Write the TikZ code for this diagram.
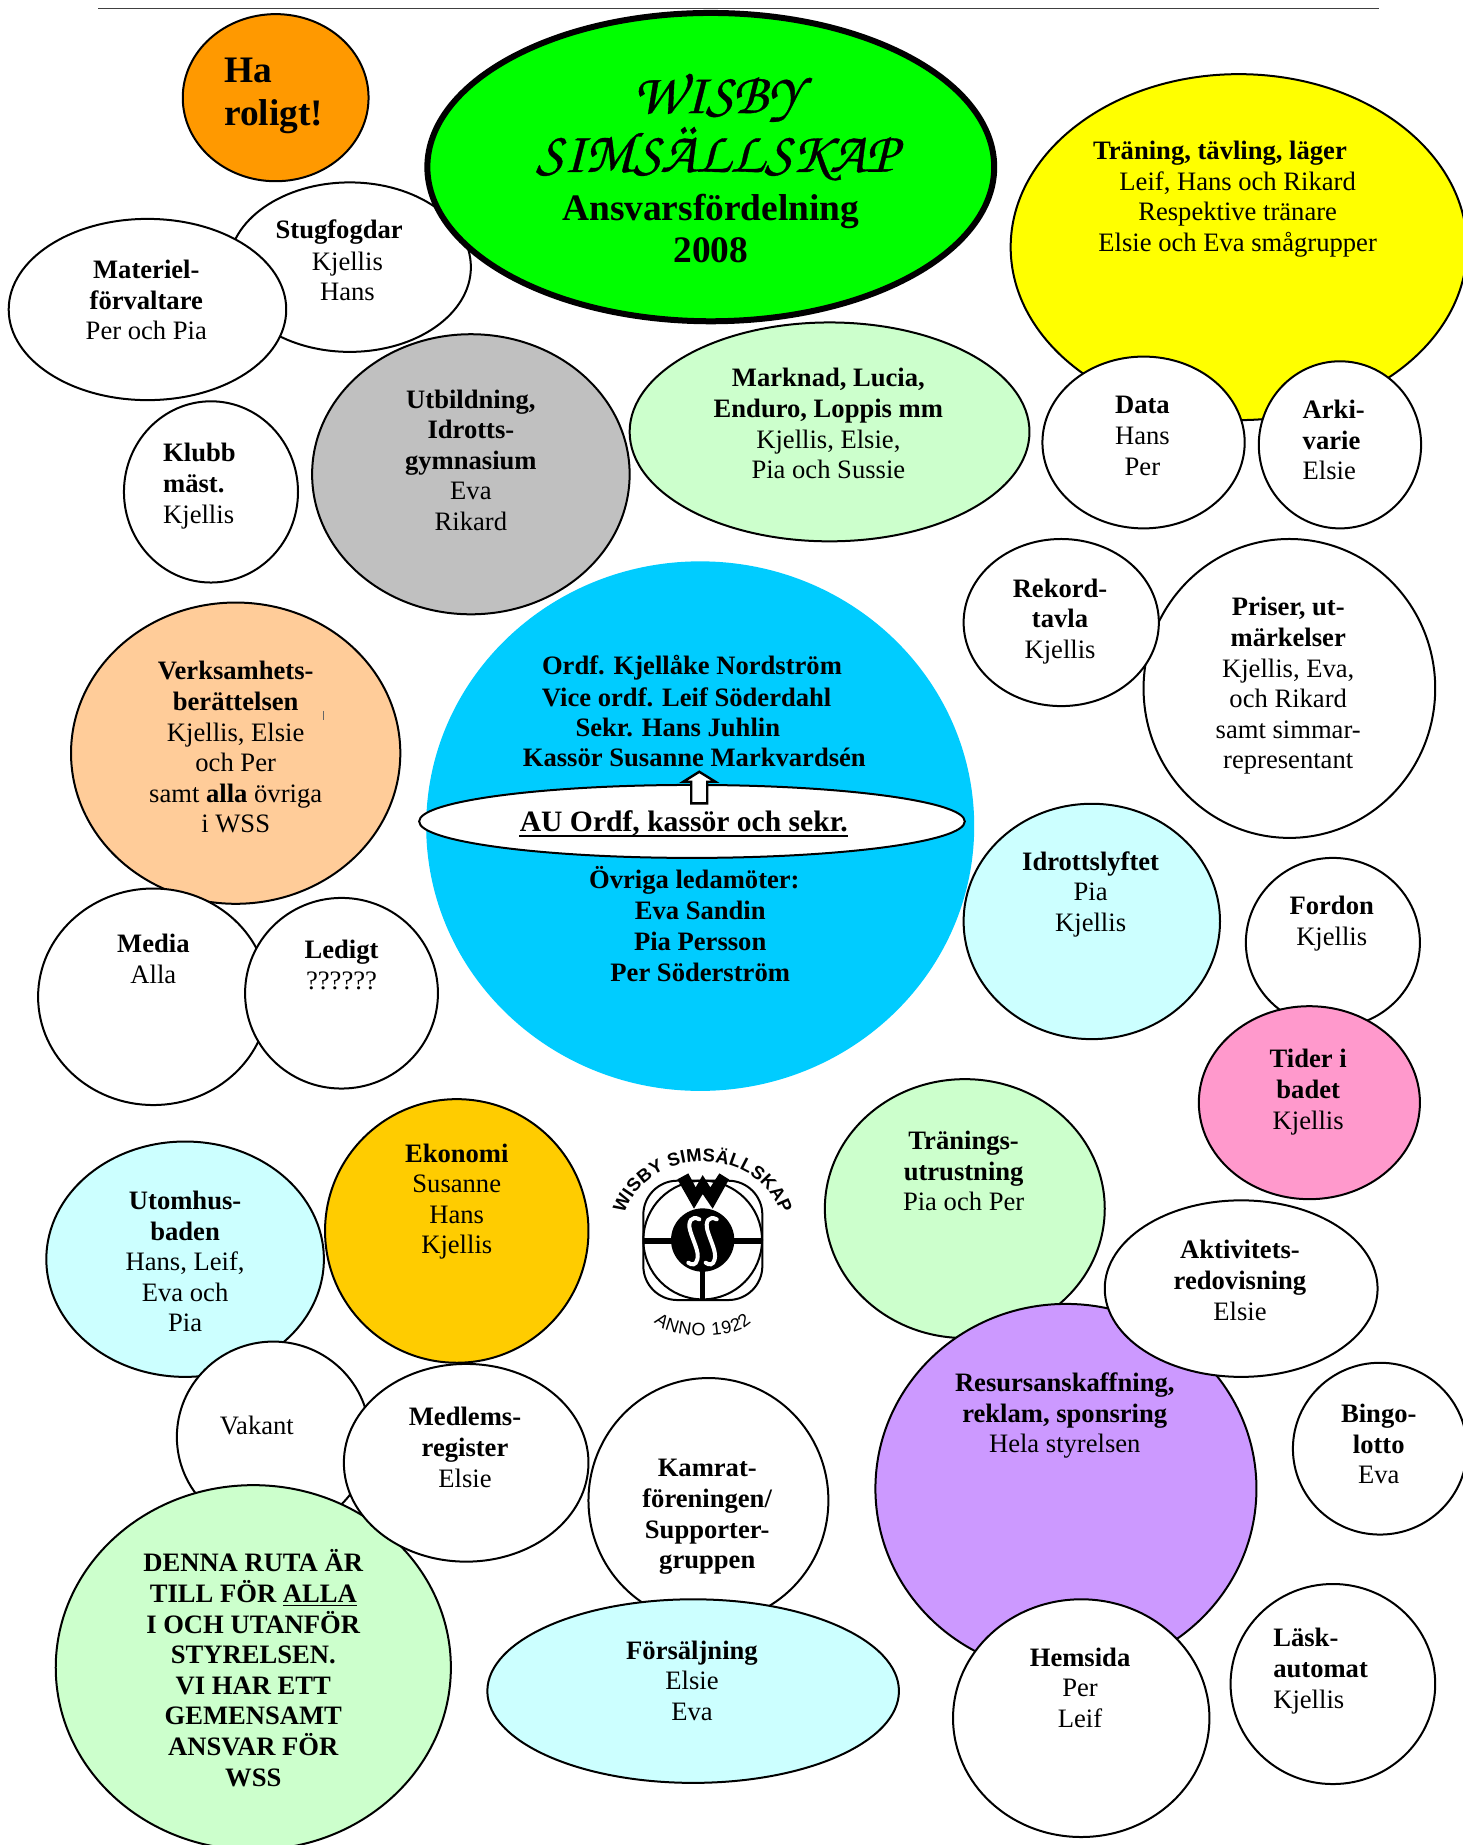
\documentclass[tikz,border=0pt]{standalone}
\usepackage{fontspec}
\setmainfont{Liberation Serif}
\newfontfamily\logofont{Liberation Sans}
\newfontfamily\chancery[FakeBold=0.6]{TeX Gyre Chorus}
\usetikzlibrary{shapes.geometric,decorations.text}
\newcommand{\UX}{0.588pt}
\newcommand{\UY}{0.5884pt}
\newcommand{\bub}[6]{\node[bubble,fill=#6,minimum width={2*#4*\UX},minimum height={2*#5*\UY}] (#1) at (#2,#3) {};}
\newcommand{\lab}[4]{\node[labeltext] (#1) at (#2,#3) {#4};}
\definecolor{cgreen}{HTML}{CCFFCC}
\definecolor{ccyan}{HTML}{CCFFFF}
\definecolor{cpeach}{HTML}{FFCC99}
\definecolor{cgold}{HTML}{FFCC00}
\definecolor{corange}{HTML}{FF9900}
\definecolor{cblue}{HTML}{00CCFF}
\definecolor{cpink}{HTML}{FF99CC}
\definecolor{cviolet}{HTML}{CC99FF}
\definecolor{cgray}{HTML}{C0C0C0}
\definecolor{cyellow}{HTML}{FFFF00}
\definecolor{clime}{HTML}{00FF00}
\tikzset{
  bubble/.style={ellipse,draw=black,line width=1pt,inner sep=0pt,outer sep=0pt},
  labeltext/.style={inner sep=0pt,align=center,font=\fontsize{13.3}{15.3}\selectfont},
  leftlabel/.style={inner sep=0pt,align=left,anchor=west,font=\fontsize{13.3}{15.3}\selectfont},
}
\begin{document}
\begin{tikzpicture}[x=0.588pt,y=-0.5884pt]
\useasboundingbox (-0.4,0) rectangle (1242.8,1567.8);
\fill[white] (-0.4,0) rectangle (1242.8,1567.8);
\coordinate (ruleL) at (83,7); \coordinate (ruleR) at (1172,7);
\draw[line width=0.5pt,black!75] (ruleL) -- (ruleR);

\bub{ha}{234}{83}{79}{71}{corange}
\node[leftlabel,font=\fontsize{18.7}{21.8}\selectfont\bfseries] (hat) at (190,81.5) {Ha\\roligt!};

\bub{stug}{297}{227}{103}{72}{white}
\lab{stuga}{288}{197.5}{\textbf{Stugfogdar}}
\lab{stugt}{295}{235}{Kjellis\\Hans}
\bub{mat}{125}{263}{118}{77}{white}
\lab{matt}{124}{255}{\textbf{Materiel-}\\\textbf{förvaltare}\\Per och Pia}

\node[bubble,fill=clime,line width=3pt,minimum width={2*241*\UX},minimum height={2*131*\UY}] (title) at (604,142) {};
\node[inner sep=0pt,align=center,font=\fontsize{29}{29.4}\selectfont\chancery] (titlea) at (609,108) {WISBY\\SIMSÄLLSKAP};
\node[inner sep=0pt,align=center,font=\fontsize{18.7}{21}\selectfont\bfseries] (titleb) at (604,194) {Ansvarsfördelning\\2008};

\bub{klubb}{179}{418}{74}{77}{white}
\node[leftlabel] (klubbt) at (138,413) {\textbf{Klubb}\\\textbf{mäst.}\\Kjellis};
\bub{utb}{400}{403}{135}{119}{cgray}
\lab{utbt}{400}{391}{\textbf{Utbildning,}\\\textbf{Idrotts-}\\\textbf{gymnasium}\\Eva\\Rikard}
\bub{mark}{705}{367}{170}{93}{cgreen}
\lab{markt}{704}{360}{\textbf{Marknad, Lucia,}\\\textbf{Enduro, Loppis mm}\\Kjellis, Elsie,\\Pia och Sussie}

\bub{tran}{1053}{210}{194}{147}{cyellow}
\lab{trana}{1037}{130}{\textbf{Träning, tävling, läger}}
\lab{tranb}{1052}{182}{Leif, Hans och Rikard\\Respektive tränare\\Elsie och Eva smågrupper}
\bub{data}{972}{376}{86}{73}{white}
\lab{datat}{971}{370.5}{\textbf{Data}\\Hans\\Per}
\bub{ark}{1139}{378}{69}{71}{white}
\node[leftlabel] (arkt) at (1107,374) {\textbf{Arki-}\\\textbf{varie}\\Elsie};

\bub{pris}{1096}{585}{124}{127}{white}
\lab{prist}{1095}{583}{\textbf{Priser, ut-}\\\textbf{märkelser}\\Kjellis, Eva,\\och Rikard\\samt simmar-\\representant}
\bub{rek}{902}{529}{83}{71}{white}
\lab{rekt}{901}{528}{\textbf{Rekord-}\\\textbf{tavla}\\Kjellis}

\bub{verk}{200}{640}{140}{128}{cpeach}
\lab{verkt}{200}{635}{\textbf{Verksamhets-}\\\textbf{berättelsen}\\Kjellis, Elsie\\och Per\\samt \textbf{alla} övriga\\i WSS}
\coordinate (tickA) at (275,604); \coordinate (tickB) at (275,612);
\draw[line width=0.4pt,black!60] (tickA) -- (tickB);
\bub{media}{130}{847}{98}{92}{white}
\lab{mediat}{130}{815}{\textbf{Media}\\Alla}
\bub{led}{290}{844}{82}{81}{white}
\lab{ledt}{290}{820}{\textbf{Ledigt}\\??????}

\node[ellipse,fill=cblue,inner sep=0pt,minimum width={2*233*\UX},minimum height={2*225*\UY}] (styr) at (595,702) {};
\lab{ln1}{588}{567}{\textbf{Ordf. Kjellåke Nordström}}
\lab{ln2}{583.5}{592.5}{\textbf{Vice ordf. Leif Söderdahl}}
\lab{ln3}{576}{618}{\textbf{Sekr. Hans Juhlin}}
\lab{ln4}{590}{644}{\textbf{Kassör Susanne Markvardsén}}
\bub{au}{588}{698}{232}{31}{white}
\node[inner sep=0pt,font=\fontsize{14.8}{17}\selectfont\bfseries] (aut) at (581,699.5) {AU Ordf, kassör och sekr.};
\draw[line width=1.1pt] ([yshift=-2.4pt]aut.base west) -- ([yshift=-2.4pt]aut.base east);
\draw[fill=white,line width=1.2pt,line join=miter] (587.4,682.6) -- (601,682.6) -- (601,664.3) -- (607.9,664.3) -- (594.2,655.8) -- (580.6,664.3) -- (587.4,664.3) -- cycle;
\lab{ln5}{590}{748}{\textbf{Övriga ledamöter:}}
\lab{ln6}{595}{774}{\textbf{Eva Sandin}}
\lab{ln7}{595}{800}{\textbf{Pia Persson}}
\lab{ln8}{595}{826}{\textbf{Per Söderström}}

\bub{idr}{928}{783}{109}{100}{ccyan}
\lab{idrt}{927}{760}{\textbf{Idrottslyftet}\\Pia\\Kjellis}
\bub{ford}{1133}{801}{74}{72}{white}
\lab{fordt}{1132}{785}{\textbf{Fordon}\\Kjellis}
\bub{tider}{1113}{937}{94}{82}{cpink}
\lab{tidert}{1112}{928}{\textbf{Tider i}\\\textbf{badet}\\Kjellis}

\bub{utom}{157}{1070}{118}{100}{ccyan}
\lab{utomt}{157}{1072}{\textbf{Utomhus-}\\\textbf{baden}\\Hans, Leif,\\Eva och\\Pia}
\bub{eko}{388}{1046}{112}{112}{cgold}
\lab{ekot}{388}{1021}{\textbf{Ekonomi}\\Susanne\\Hans\\Kjellis}

% logo, in 3x-crop units of the reference
\begin{scope}[shift={(289.76pt,-560pt)},x=0.16667pt,y=-0.16667pt]
  \coordinate (logoC) at (368,360);
  \draw[line width=1pt,rounded corners=17pt] (190,182) rectangle (547,540);
  \draw[line width=1pt] (368,360) circle [radius=178];
  \draw[line width=2.8pt] (190,362) -- (547,362);
  \draw[line width=2.8pt] (368,440) -- (368,540);
  \fill[black] (368,360) circle [radius=95];
  \fill[black] (292,178) -- (325,160) -- (347,202) -- (368,165) -- (391,202) -- (418,160) -- (447,178) -- (398,266) -- (368,222) -- (342,266) -- cycle;
  \foreach \dx in {0,52}{
    \begin{scope}[xshift=\dx*0.16667pt]
      \draw[white,line width=2pt,line cap=round] (358,298) .. controls (335,285) and (323,305) .. (330,330) .. controls (340,365) and (358,395) .. (352,418) .. controls (348,436) and (335,436) .. (325,428);
    \end{scope}
  }
  \path[decorate,decoration={text along path,text align={fit to path},text={|\fontsize{9.2}{9.2}\selectfont\logofont\bfseries|WISBY SIMSÄLLSKAP}}] (133,282) .. controls (205,72) and (530,72) .. (603,282);
  \path[decorate,decoration={text along path,text align={fit to path},text={|\fontsize{9}{9}\selectfont\logofont|ANNO 1922}}] (222,606) .. controls (270,662) and (468,662) .. (514,606);
\end{scope}

\bub{tut}{820}{1027}{119}{110}{cgreen}
\lab{tutt}{819}{995}{\textbf{Tränings-}\\\textbf{utrustning}\\Pia och Per}
\bub{res}{906}{1265}{162}{157}{cviolet}
\lab{rest}{905}{1203}{\textbf{Resursanskaffning,}\\\textbf{reklam, sponsring}\\Hela styrelsen}
\bub{akt}{1055}{1095}{116}{75}{white}
\lab{aktt}{1054}{1088}{\textbf{Aktivitets-}\\\textbf{redovisning}\\Elsie}
\bub{bingo}{1173}{1231}{74}{73}{white}
\lab{bingot}{1172}{1227}{\textbf{Bingo-}\\\textbf{lotto}\\Eva}
\bub{lask}{1133}{1431}{87}{85}{white}
\node[leftlabel] (laskt) at (1082,1420) {\textbf{Läsk-}\\\textbf{automat}\\Kjellis};
\bub{hem}{919}{1460}{109}{101}{white}
\lab{hemt}{918}{1434}{\textbf{Hemsida}\\Per\\Leif}

\bub{vak}{232}{1221}{82}{81}{white}
\lab{vakt}{218}{1211}{Vakant}
\bub{denna}{215}{1417}{168}{155}{cgreen}
\lab{dennat}{215}{1417.5}{\textbf{DENNA RUTA ÄR}\\\textbf{TILL FÖR \underline{ALLA}}\\\textbf{I OCH UTANFÖR}\\\textbf{STYRELSEN.}\\\textbf{VI HAR ETT}\\\textbf{GEMENSAMT}\\\textbf{ANSVAR FÖR}\\\textbf{WSS}}
\bub{med}{396}{1243}{104}{84}{white}
\lab{medt}{395}{1230}{\textbf{Medlems-}\\\textbf{register}\\Elsie}
\bub{kam}{602}{1275}{102}{104}{white}
\lab{kamt}{601}{1289}{\textbf{Kamrat-}\\\textbf{föreningen/}\\\textbf{Supporter-}\\\textbf{gruppen}}
\bub{fors}{589}{1437}{175}{78}{ccyan}
\lab{forst}{588}{1428}{\textbf{Försäljning}\\Elsie\\Eva}
\end{tikzpicture}
\end{document}
